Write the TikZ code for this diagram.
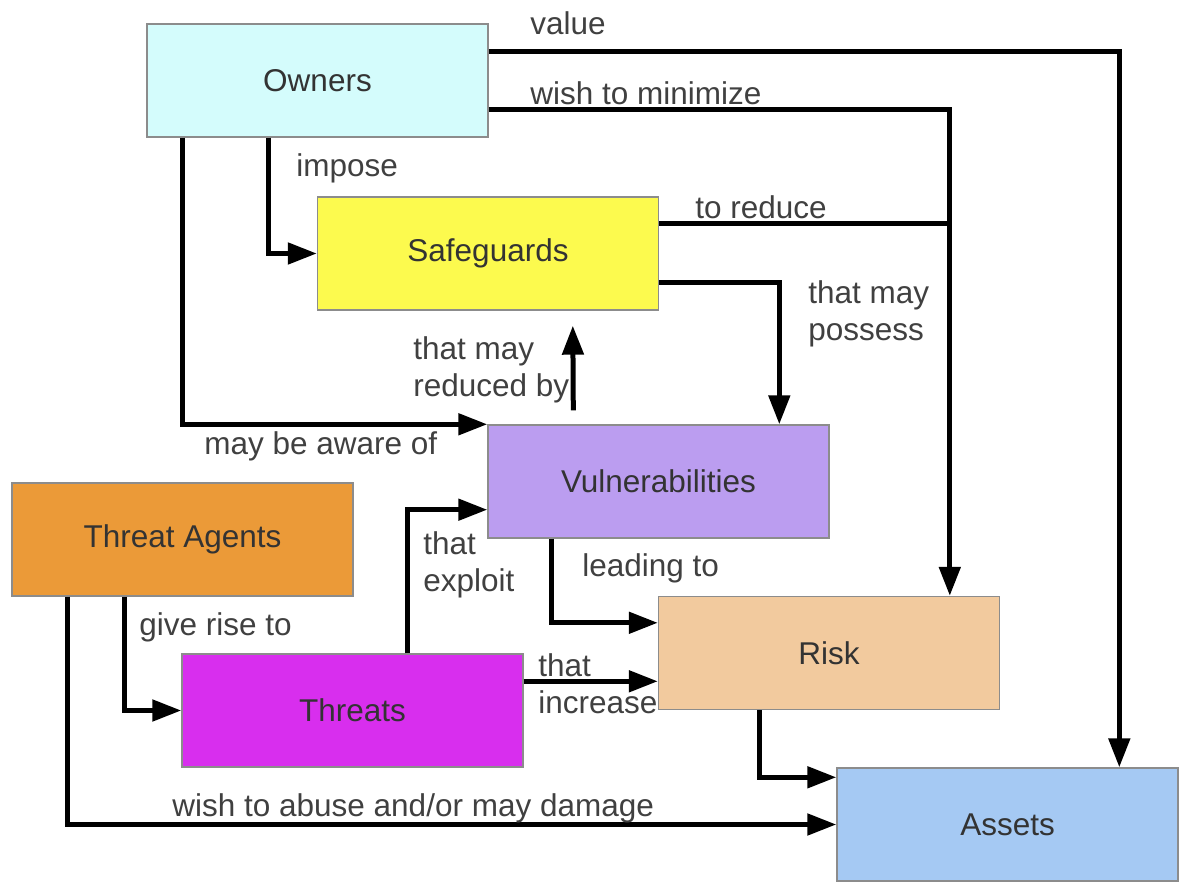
\documentclass[tikz,border=0pt]{standalone}
\usepackage{fontspec}
\setmainfont{Liberation Sans}
\usetikzlibrary{arrows.meta,calc}
\definecolor{ownc}{HTML}{D4FCFC}
\definecolor{safc}{HTML}{FCFA4E}
\definecolor{vulc}{HTML}{BB9DF0}
\definecolor{tac}{HTML}{EB9A38}
\definecolor{riskc}{HTML}{F2CA9E}
\definecolor{thrc}{HTML}{D82EEE}
\definecolor{assc}{HTML}{A5C9F3}
\definecolor{boxline}{HTML}{8C8C8C}
\definecolor{boxtext}{HTML}{333333}
\definecolor{lbltext}{HTML}{404040}
\begin{document}
\begin{tikzpicture}[x=0.5pt,y=-0.5pt,
  font=\fontsize{15.75}{18.5}\selectfont,
  box/.style={draw=boxline, line width=0.7pt, minimum width=170.5pt,
    minimum height=56.5pt, inner sep=0pt, text=boxtext},
  link/.style={line width=2.5pt},
  arr/.style={link, -{Triangle[length=14.5pt,width=10.5pt]}},
  lbl/.style={text=lbltext, inner sep=0pt, anchor=base west},
  lbltwo/.style={text=lbltext, inner sep=0pt, anchor=west, align=left}]
\useasboundingbox (0,0) rectangle (1182,886);

% concept boxes
\node[box, fill=ownc]  (own)  at (317.5,80.5)  {Owners};
\node[box, fill=safc]  (saf)  at (488,253.5)   {Safeguards};
\node[box, fill=vulc]  (vul)  at (658.5,481.5) {Vulnerabilities};
\node[box, fill=tac]   (ta)   at (182.5,539.5) {Threat Agents};
\node[box, fill=riskc] (risk) at (829,653)     {Risk};
\node[box, fill=thrc]  (thr)  at (352.5,710.5) {Threats};
\node[box, fill=assc]  (ass)  at (1007.5,824.5){Assets};

% helper points for shared vertical runs
\coordinate (rkx) at ($(risk.north west)+(292,0)$);
\coordinate (asx) at ($(ass.north west)+(283,0)$);
\coordinate (sr)  at ($(saf.north east)+(0,27)$);
\coordinate (ti)  at ($(thr.north east)+(0,28)$);

% relations
\draw[arr] ($(own.north east)+(0,28)$) -| (asx);
\draw[arr] ($(own.north east)+(0,86)$) -| (rkx);
\draw[link] (sr) -- (sr -| rkx);
\draw[arr] ($(saf.north east)+(0,86)$) -| ($(vul.north west)+(292,0)$);
\draw[arr] ($(own.south west)+(122,0)$) |- (saf.west);
\draw[arr] ($(own.south west)+(36,0)$) |- (vul.north west);
\draw[arr] ($(vul.north west)+(86,-14)$) -- ($(saf.south west)+(256,15)$);
\draw[arr] ($(ta.south west)+(113,0)$) |- (thr.west);
\draw[arr] ($(ta.south west)+(56,0)$) |- (ass.west);
\draw[arr] ($(thr.north west)+(226,0)$) |- ($(vul.south west)+(0,-29)$);
\draw[arr] (ti) -- (ti -| risk.west);
\draw[arr] ($(vul.south west)+(64,0)$) |- ($(risk.north west)+(0,27)$);
\draw[arr] ($(risk.south west)+(102,0)$) |- ($(ass.north west)+(0,10)$);

% relation labels
\node[lbl] (lvalue)  at (530,35)  {value};
\node[lbl] (lmin)    at (530,105) {wish to minimize};
\node[lbl] (limpose) at (296,177) {impose};
\node[lbl] (lreduce) at (695,219) {to reduce};
\node[lbltwo] (lposs)  at (808,314) {that may\\possess};
\node[lbltwo] (lredby) at (413,370) {that may\\reduced by};
\node[lbl] (laware)  at (204,455) {may be aware of};
\node[lbltwo] (lexpl)  at (423,565) {that\\exploit};
\node[lbl] (llead)   at (582,577) {leading to};
\node[lbl] (lrise)   at (139,635) {give rise to};
\node[lbltwo] (lincr)  at (538,684) {that\\increase};
\node[lbl] (labuse)  at (172,816) {wish to abuse and/or may damage};
\end{tikzpicture}
\end{document}
